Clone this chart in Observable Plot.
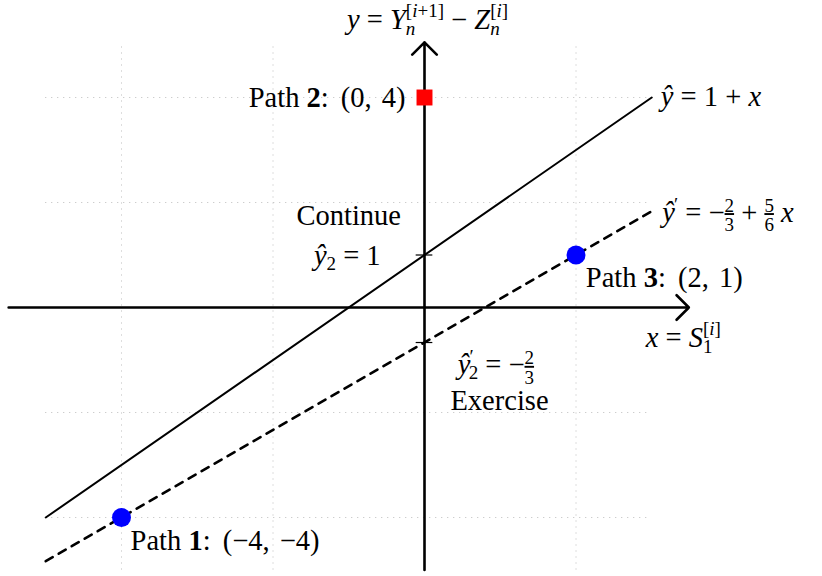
<!DOCTYPE html>
<html><head><meta charset="utf-8">
<script src="https://cdn.jsdelivr.net/npm/d3@7"></script>
<script src="https://cdn.jsdelivr.net/npm/@observablehq/plot@0.6"></script>
<style>body{margin:0;background:#fff} #chart svg{display:block}</style>
</head><body><div id="chart"></div>
<script>
// ---- data ----
const gridX = [-4, -2, 0, 2];
const gridY = [-4, -2, 0, 2, 4];
const pathLabels = ["Path 1", "Path 2", "Path 3"];
const pathX = [-4, 0, 2];
const pathY = [-4, 4, 1];
const pathShape = ["circle", "square", "circle"];
const pathColor = ["#0000ff", "#ff0000", "#0000ff"];
const solidX = [-5, 3];
const solidY = [-4, 4];
const dashedX = [-5, 3];
const dashedY = [-4.833, 1.833];
const tickY = [1, -0.667];

// annotation texts (plain) with their anchor points in data units
const annText = ["y = Y_n^[i+1] − Z_n^[i]", "Path 2: (0, 4)", "ŷ = 1 + x", "ŷ' = −2/3 + 5/6 x",
  "Continue", "ŷ2 = 1", "Path 3: (2, 1)", "x = S_1^[i]", "ŷ'2 = −2/3", "Exercise", "Path 1: (−4, −4)"];
const annX = [0.04, -0.25, 3.12, 3.14, -1.0, -1.02, 2.13, 2.92, 0.99, 0.99, -3.88];
const annY = [5.47, 4.0, 4.02, 1.81, 1.75, 0.99, 0.57, -0.57, -1.10, -1.77, -4.44];
const annAnchor = ["middle", "end", "start", "start", "middle", "middle", "start", "start", "middle", "middle", "start"];

// rich (math) rendering of each annotation
const S = 19;            // script size
const I = s => `<tspan font-style="italic">${s}</tspan>`;
const frac = (a, b) => `<tspan font-size="${S}" dy="-10">${a}</tspan><tspan font-size="${S}" dx="-9.5" dy="19.5" text-decoration="overline">${b}</tspan><tspan dy="-9.5"> </tspan>`;
const pt = (a, b) => `<tspan dx="5">(</tspan>${a},<tspan dx="3">${b})</tspan>`;
const rich = {
  "y = Y_n^[i+1] − Z_n^[i]": `${I("y")} = ${I("Y")}<tspan font-size="${S}" font-style="italic" dy="6">n</tspan><tspan font-size="${S}" dx="-9.5" dy="-18">[${I("i")}+1]</tspan><tspan dy="12"> − </tspan>${I("Z")}<tspan font-size="${S}" font-style="italic" dy="6">n</tspan><tspan font-size="${S}" dx="-9.5" dy="-18">[${I("i")}]</tspan>`,
  "Path 2: (0, 4)": `Path <tspan font-weight="bold">2</tspan>: ${pt("0", " 4")}`,
  "ŷ = 1 + x": `${I("ŷ")} = 1 + ${I("x")}`,
  "ŷ' = −2/3 + 5/6 x": `${I("ŷ")}<tspan font-size="${S}" dx="-1" dy="-11">′</tspan><tspan dy="11"> = −</tspan>${frac(2, 3)}+ ${frac(5, 6)}${I("x")}`,
  "Continue": "Continue",
  "ŷ2 = 1": `${I("ŷ")}<tspan font-size="${S}" dy="5">2</tspan><tspan dy="-5"> = 1</tspan>`,
  "Path 3: (2, 1)": `Path <tspan font-weight="bold">3</tspan>: ${pt("2", " 1")}`,
  "x = S_1^[i]": `${I("x")} = ${I("S")}<tspan font-size="${S}" dy="6">1</tspan><tspan font-size="${S}" dx="-9.5" dy="-18">[${I("i")}]</tspan>`,
  "ŷ'2 = −2/3": `${I("ŷ")}<tspan font-size="${S}" dx="-1" dy="-11">′</tspan><tspan font-size="${S}" dx="-5" dy="16">2</tspan><tspan dy="-5"> = −</tspan>${frac(2, 3)}`,
  "Exercise": "Exercise",
  "Path 1: (−4, −4)": `Path <tspan font-weight="bold">1</tspan>: ${pt("−4", " −4")}`
};

// ---- tables ----
const points = pathLabels.map((p, i) => ({path: p, x: pathX[i], y: pathY[i], shape: pathShape[i], color: pathColor[i]}));
const solid = solidX.map((x, i) => ({x, y: solidY[i]}));
const dashed = dashedX.map((x, i) => ({x, y: dashedY[i]}));
const ann = annText.map((t, i) => ({text: t, x: annX[i], y: annY[i], anchor: annAnchor[i]}));

const FS = 28.5;
const textMark = a => Plot.text(ann.filter(d => d.anchor === a), {x: "x", y: "y", text: "text", textAnchor: a, fontSize: FS, fill: "black"});

const chart = Plot.plot({
  width: 822, height: 576, margin: 0,
  x: {domain: [-424 / 75.75, (822 - 424) / 75.75], axis: null},
  y: {domain: [(307 - 576) / 52.5, 307 / 52.5], axis: null},
  style: {fontFamily: "'Liberation Serif', 'DejaVu Serif', serif", background: "white", overflow: "visible"},
  marks: [
    Plot.ruleX(gridX, {y1: -5, y2: 5, stroke: "#bdbdbd", strokeWidth: 1, strokeDasharray: "1,5"}),
    Plot.ruleY(gridY, {x1: -5, x2: 3, stroke: "#bdbdbd", strokeWidth: 1, strokeDasharray: "1,5"}),
    Plot.arrow([{x1: -5.49, y1: 0, x2: 3.49, y2: 0}], {x1: "x1", y1: "y1", x2: "x2", y2: "y2", stroke: "black", strokeWidth: 2.6, headAngle: 90, headLength: 10}),
    Plot.arrow([{x1: 0, y1: -5, x2: 0, y2: 5.05}], {x1: "x1", y1: "y1", x2: "x2", y2: "y2", stroke: "black", strokeWidth: 2.6, headAngle: 90, headLength: 10}),
    Plot.ruleY(tickY, {x1: -0.11, x2: 0.11, stroke: "black", strokeWidth: 1.2}),
    Plot.line(solid, {x: "x", y: "y", stroke: "black", strokeWidth: 2}),
    Plot.line(dashed, {x: "x", y: "y", stroke: "black", strokeWidth: 2.6, strokeDasharray: "8,7"}),
    Plot.dot(points.filter(d => d.shape === "circle"), {x: "x", y: "y", symbol: "circle", fill: "color", r: 9.5, stroke: null}),
    Plot.dot(points.filter(d => d.shape === "square"), {x: "x", y: "y", symbol: "square", fill: "color", r: 9, stroke: null}),
    textMark("start"), textMark("middle"), textMark("end")
  ]
});
document.getElementById("chart").append(chart);

d3.select(chart).selectAll("text").each(function () {
  const t = this.textContent;
  if (rich[t] !== undefined) this.innerHTML = rich[t];
});
</script>
</body></html>
